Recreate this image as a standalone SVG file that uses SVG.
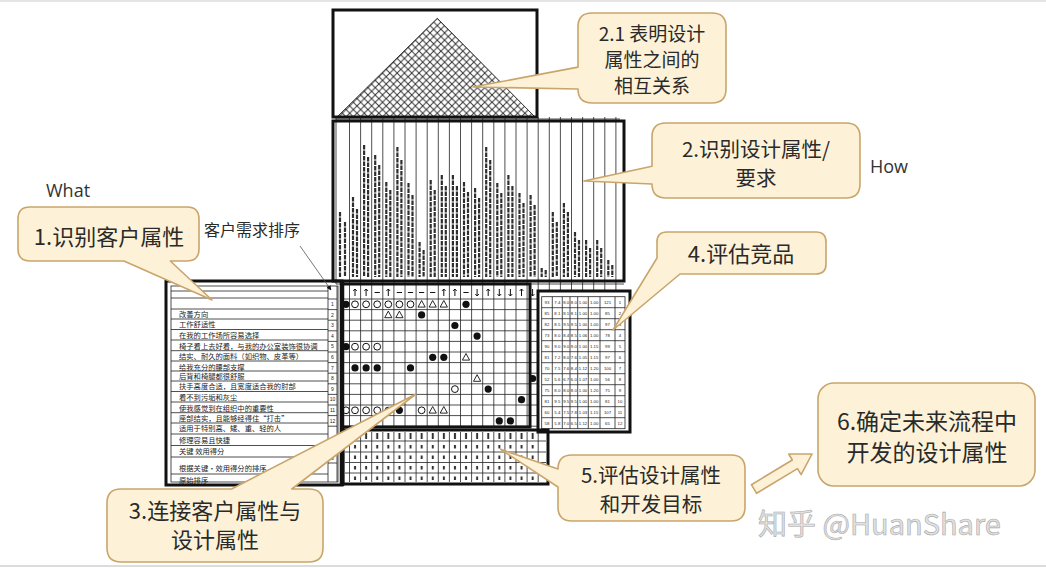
<svg xmlns="http://www.w3.org/2000/svg" width="1046" height="568" viewBox="0 0 1046 568">
<defs>
<style>
.cb{fill:#fdf2d8;stroke:#c9a56b;stroke-width:1.6;stroke-linejoin:round}
.ct{font-family:"Noto Sans CJK SC","Noto Sans",sans-serif;fill:#2a2a2a;text-anchor:middle}
.lbl{font-family:"Open Sans","Noto Sans",sans-serif;fill:#333;font-size:18px}
.thick{fill:none;stroke:#111;stroke-width:3}
.grid{fill:none;stroke:#222;stroke-width:0.8}
.lt{font-family:"Noto Sans CJK SC","Noto Sans",sans-serif;fill:#222;font-size:7.3px}
.num{font-family:"Liberation Sans",Arial,sans-serif;fill:#222;font-size:4.3px;text-anchor:middle}
.rn{font-family:"Liberation Sans",Arial,sans-serif;fill:#222;font-size:5px;text-anchor:middle}
.dir{fill:none;stroke:#111;stroke-width:1}
</style>
<pattern id="hatch" width="7.3" height="7.3" patternUnits="userSpaceOnUse" patternTransform="translate(437.3,18.3)">
<path d="M0,0 L7.3,7.3 M7.3,0 L0,7.3" stroke="#333" stroke-width="1"/>
</pattern>
<pattern id="evalMarks" x="349.5" y="430" width="11.1" height="53" patternUnits="userSpaceOnUse">
<path d="M5.55,3 V9 M5.55,15 V18.5 M5.55,25.5 V29 M5.55,36 V39.5 M5.55,46.5 V50" stroke="#333" stroke-width="2"/>
</pattern>
<circle id="so" r="3.4" fill="#fff" stroke="#111" stroke-width="1"/>
<circle id="sf" r="3.6" fill="#111"/>
<path id="st" d="M0,-3.8 L3.6,2.8 L-3.6,2.8 Z" fill="#fff" stroke="#111" stroke-width="0.9"/>
<path id="up" class="dir" d="M0,-3.5 V3.5 M-1.8,-1.6 L0,-3.5 L1.8,-1.6"/>
<path id="dn" class="dir" d="M0,-3.5 V3.5 M-1.8,1.6 L0,3.5 L1.8,1.6"/>
<path id="nt" class="dir" d="M-2.6,0 H2.6"/>
<marker id="ah" viewBox="0 0 10 10" refX="9" refY="5" markerWidth="6" markerHeight="6" orient="auto">
<path d="M0,0 L10,5 L0,10 Z" fill="#111"/>
</marker>
</defs>
<rect x="0" y="0" width="1046" height="568" fill="#fff"/>
<rect x="0" y="0" width="1046" height="2" fill="#e4e4e4"/>
<line x1="0" y1="566" x2="1046" y2="566" stroke="#dcdcdc" stroke-width="2"/>

<g id="roof">
<polygon points="437.3,18.3 337,117 535,117" fill="url(#hatch)" stroke="#333" stroke-width="1"/>
<rect x="333" y="10" width="204" height="107" class="thick"/>
</g>

<g id="design-attributes">
<path class="grid" d="M336,117 V284 M349.5,117 V284 M360.6,117 V284 M371.7,117 V284 M382.8,117 V284 M393.9,117 V284 M405,117 V284 M416.1,117 V284 M427.2,117 V284 M438.3,117 V284 M449.4,117 V284 M460.5,117 V284 M471.6,117 V284 M482.7,117 V284 M493.8,117 V284 M504.9,117 V284 M516,117 V284 M527.1,117 V284 M538.2,117 V284 M549.3,117 V291 M560.4,117 V291 M571.5,117 V291 M582.6,117 V291 M593.7,117 V291 M604.8,117 V291 M615.9,117 V291 M336,119 H620 M336,284 H624"/>
<path fill="none" stroke="#2e2e2e" stroke-width="2.2" stroke-dasharray="4.5 1" d="M340,212 V277 M345,222 V277 M353,197 V277 M357,209 V277 M364.1,145 V277 M368.1,157 V277 M375.2,155 V277 M379.2,165 V277 M386.3,182 V277 M390.3,190 V277 M397.4,147 V277 M401.4,160 V277 M408.5,183 V277 M412.5,195 V277 M419.6,242 V277 M423.6,250 V277 M430.7,180 V277 M434.7,190 V277 M441.8,175 V277 M445.8,186 V277 M452.9,175 V277 M456.9,186 V277 M464,182 V277 M468,192 V277 M475.1,188 V277 M479.1,198 V277 M486.2,147 V277 M490.2,160 V277 M497.3,183 V277 M501.3,193 V277 M508.4,175 V277 M512.4,186 V277 M519.5,193 V277 M523.5,203 V277 M530.6,195 V277 M534.6,205 V277 M541.7,268 V277 M545.7,270 V277 M552.8,212 V277 M556.8,222 V277 M563.9,203 V277 M567.9,212 V277 M575,232 V277 M579,240 V277 M586.1,240 V277 M590.1,248 V277 M597.2,240 V277 M601.2,248 V277 M608.3,260 V277 M612.3,265 V277"/>
<rect x="333" y="121" width="291" height="160" class="thick"/>
</g>

<g id="customer-attributes">
<rect x="171" y="286" width="167" height="196" fill="none" stroke="#222" stroke-width="0.8"/>
<path class="grid" d="M171,291 H328 M171,298 H328 M171,309 H328 M171,319 H328 M171,329.5 H328 M171,340 H328 M171,350.7 H328 M171,361 H328 M171,371 H328 M171,381 H328 M171,391.5 H328 M171,402 H328 M171,412.7 H328 M171,423 H328 M171,434 H328 M171,445.5 H328 M171,457 H328 M171,474 H328 M328,286 V482 M337,286 V482 M328,299 H337 M328,309.6 H337 M328,320.2 H337 M328,330.8 H337 M328,341.4 H337 M328,352 H337 M328,362.6 H337 M328,373.2 H337 M328,383.8 H337 M328,394.4 H337 M328,405 H337 M328,415.6 H337 M328,426.2 H337 M328,452 H337 M328,463 H337"/>
<text class="lt" x="179" y="317">改善方向</text>
<text class="lt" x="179" y="327">工作舒适性</text>
<text class="lt" x="179" y="338">在我的工作场所容易选择</text>
<text class="lt" x="179" y="348.5">椅子看上去好看，与我的办公室装饰很协调</text>
<text class="lt" x="179" y="359">结实、耐久的面料（如织物、皮革等）</text>
<text class="lt" x="179" y="369.5">给我充分的腰部支撑</text>
<text class="lt" x="179" y="379">后背和椅腿都很舒服</text>
<text class="lt" x="179" y="389">扶手高度合适，且宽度适合我的肘部</text>
<text class="lt" x="179" y="400">看不到污垢和灰尘</text>
<text class="lt" x="179" y="410.5">使我感觉到在组织中的重要性</text>
<text class="lt" x="179" y="421">座部结实，且能够经得住“打击”</text>
<text class="lt" x="179" y="431">适用于特别高、矮、重、轻的人</text>
<text class="lt" x="179" y="443">修理容易且快捷</text>
<text class="lt" x="179" y="454">关键 效用得分</text>
<text class="lt" x="179" y="471">根据关键·效用得分的排序</text>
<text class="lt" x="179" y="483">原始排序</text>
<text class="rn" x="332.5" y="306">1</text>
<text class="rn" x="332.5" y="316.6">2</text>
<text class="rn" x="332.5" y="327.2">3</text>
<text class="rn" x="332.5" y="337.8">4</text>
<text class="rn" x="332.5" y="348.4">5</text>
<text class="rn" x="332.5" y="359">6</text>
<text class="rn" x="332.5" y="369.6">7</text>
<text class="rn" x="332.5" y="380.2">8</text>
<text class="rn" x="332.5" y="390.8">9</text>
<text class="rn" x="332.5" y="401.4">10</text>
<text class="rn" x="332.5" y="412">11</text>
<text class="rn" x="332.5" y="422.6">12</text>
<text class="rn" x="332.5" y="459.5">3</text>
<rect x="166" y="281" width="176" height="204" class="thick"/>
</g>

<g id="relationship-matrix">
<path class="grid" d="M349.5,284 V427 M360.6,284 V427 M371.7,284 V427 M382.8,284 V427 M393.9,284 V427 M405,284 V427 M416.1,284 V427 M427.2,284 V427 M438.3,284 V427 M449.4,284 V427 M460.5,284 V427 M471.6,284 V427 M482.7,284 V427 M493.8,284 V427 M504.9,284 V427 M516,284 V427 M527.1,284 V427 M538.2,284 V427 M342,299 H538 M342,309.6 H538 M342,320.2 H538 M342,330.8 H538 M342,341.4 H538 M342,352 H538 M342,362.6 H538 M342,373.2 H538 M342,383.8 H538 M342,394.4 H538 M342,405 H538 M342,415.6 H538 M342,426.2 H538"/>
<use href="#up" x="355" y="292.5"/><use href="#up" x="366.1" y="292.5"/><use href="#nt" x="377.2" y="292.5"/><use href="#up" x="388.3" y="292.5"/><use href="#nt" x="399.4" y="292.5"/><use href="#nt" x="410.5" y="292.5"/><use href="#nt" x="421.6" y="292.5"/><use href="#nt" x="432.7" y="292.5"/><use href="#up" x="443.8" y="292.5"/><use href="#up" x="454.9" y="292.5"/><use href="#nt" x="466" y="292.5"/><use href="#dn" x="477.1" y="292.5"/><use href="#up" x="488.2" y="292.5"/><use href="#dn" x="499.3" y="292.5"/><use href="#dn" x="510.4" y="292.5"/><use href="#up" x="521.5" y="292.5"/><use href="#dn" x="532.6" y="292.5"/>
<use href="#sf" x="346" y="304.3"/><use href="#sf" x="346" y="346.7"/><use href="#so" x="346" y="410.3"/>
<use href="#so" x="355" y="304.3"/><use href="#so" x="366.1" y="304.3"/><use href="#so" x="377.2" y="304.3"/><use href="#so" x="388.3" y="304.3"/><use href="#so" x="399.4" y="304.3"/><use href="#so" x="410.5" y="304.3"/><use href="#st" x="421.6" y="304.3"/><use href="#st" x="432.7" y="304.3"/><use href="#st" x="443.8" y="304.3"/><use href="#sf" x="466" y="304.3"/>
<use href="#st" x="388.3" y="314.9"/><use href="#st" x="399.4" y="314.9"/><use href="#sf" x="421.6" y="314.9"/>
<use href="#sf" x="454.9" y="325.5"/>
<use href="#sf" x="477.1" y="336.1"/>
<use href="#so" x="355" y="346.7"/><use href="#so" x="366.1" y="346.7"/><use href="#so" x="377.2" y="346.7"/>
<use href="#sf" x="432.7" y="357.3"/><use href="#sf" x="443.8" y="357.3"/><use href="#st" x="466" y="357.3"/>
<use href="#sf" x="355" y="367.9"/><use href="#sf" x="366.1" y="367.9"/><use href="#sf" x="377.2" y="367.9"/><use href="#sf" x="410.5" y="367.9"/>
<use href="#st" x="477.1" y="378.5"/><use href="#sf" x="532.6" y="378.5"/>
<use href="#so" x="454.9" y="389.1"/><use href="#sf" x="488.2" y="389.1"/>
<use href="#sf" x="521.5" y="399.7"/>
<use href="#so" x="355" y="410.3"/><use href="#so" x="366.1" y="410.3"/><use href="#so" x="377.2" y="410.3"/><use href="#sf" x="388.3" y="410.3"/><use href="#sf" x="399.4" y="410.3"/><use href="#so" x="421.6" y="410.3"/><use href="#st" x="432.7" y="410.3"/><use href="#st" x="443.8" y="410.3"/>
<use href="#sf" x="499.3" y="420.9"/><use href="#sf" x="510.4" y="420.9"/>
<rect x="342" y="284" width="188" height="143" class="thick"/>
<line x1="342" y1="281" x2="342" y2="486" stroke="#111" stroke-width="4.5"/>
</g>

<g id="competitor-evaluation">
<rect x="541.7" y="296.7" width="83.3" height="132" fill="none" stroke="#222" stroke-width="0.8"/>
<path class="grid" d="M552.3,296.7 V428.7 M562.3,296.7 V428.7 M570,296.7 V428.7 M577.7,296.7 V428.7 M588.3,296.7 V428.7 M600,296.7 V428.7 M615,296.7 V428.7 M541.7,307.7 H625 M541.7,318.7 H625 M541.7,329.7 H625 M541.7,340.7 H625 M541.7,351.7 H625 M541.7,362.7 H625 M541.7,373.7 H625 M541.7,384.7 H625 M541.7,395.7 H625 M541.7,406.7 H625 M541.7,417.7 H625"/>
<text class="num" y="303.7"><tspan x="546.9">93</tspan><tspan x="557.3">7.4</tspan><tspan x="566.2">8.0</tspan><tspan x="573.8">8.0</tspan><tspan x="583">1.00</tspan><tspan x="594.2">1.00</tspan><tspan x="607.5">121</tspan><tspan x="620">1</tspan></text>
<text class="num" y="314.7"><tspan x="546.9">85</tspan><tspan x="557.3">8.1</tspan><tspan x="566.2">8.1</tspan><tspan x="573.8">8.1</tspan><tspan x="583">1.00</tspan><tspan x="594.2">1.00</tspan><tspan x="607.5">85</tspan><tspan x="620">2</tspan></text>
<text class="num" y="325.7"><tspan x="546.9">82</tspan><tspan x="557.3">8.5</tspan><tspan x="566.2">9.5</tspan><tspan x="573.8">9.5</tspan><tspan x="583">1.00</tspan><tspan x="594.2">1.00</tspan><tspan x="607.5">97</tspan><tspan x="620">3</tspan></text>
<text class="num" y="336.7"><tspan x="546.9">73</tspan><tspan x="557.3">8.0</tspan><tspan x="566.2">8.4</tspan><tspan x="573.8">8.5</tspan><tspan x="583">1.06</tspan><tspan x="594.2">1.00</tspan><tspan x="607.5">78</tspan><tspan x="620">4</tspan></text>
<text class="num" y="347.7"><tspan x="546.9">90</tspan><tspan x="557.3">9.0</tspan><tspan x="566.2">9.0</tspan><tspan x="573.8">9.0</tspan><tspan x="583">1.00</tspan><tspan x="594.2">1.15</tspan><tspan x="607.5">99</tspan><tspan x="620">5</tspan></text>
<text class="num" y="358.7"><tspan x="546.9">81</tspan><tspan x="557.3">7.2</tspan><tspan x="566.2">8.0</tspan><tspan x="573.8">7.6</tspan><tspan x="583">1.05</tspan><tspan x="594.2">1.15</tspan><tspan x="607.5">97</tspan><tspan x="620">6</tspan></text>
<text class="num" y="369.7"><tspan x="546.9">70</tspan><tspan x="557.3">7.5</tspan><tspan x="566.2">7.6</tspan><tspan x="573.8">8.4</tspan><tspan x="583">1.12</tspan><tspan x="594.2">1.20</tspan><tspan x="607.5">100</tspan><tspan x="620">7</tspan></text>
<text class="num" y="380.7"><tspan x="546.9">52</tspan><tspan x="557.3">5.6</tspan><tspan x="566.2">6.7</tspan><tspan x="573.8">6.0</tspan><tspan x="583">1.07</tspan><tspan x="594.2">1.00</tspan><tspan x="607.5">56</tspan><tspan x="620">8</tspan></text>
<text class="num" y="391.7"><tspan x="546.9">75</tspan><tspan x="557.3">8.0</tspan><tspan x="566.2">8.0</tspan><tspan x="573.8">8.0</tspan><tspan x="583">1.00</tspan><tspan x="594.2">1.20</tspan><tspan x="607.5">75</tspan><tspan x="620">9</tspan></text>
<text class="num" y="402.7"><tspan x="546.9">81</tspan><tspan x="557.3">9.5</tspan><tspan x="566.2">9.5</tspan><tspan x="573.8">9.5</tspan><tspan x="583">1.00</tspan><tspan x="594.2">1.00</tspan><tspan x="607.5">81</tspan><tspan x="620">10</tspan></text>
<text class="num" y="413.7"><tspan x="546.9">60</tspan><tspan x="557.3">5.4</tspan><tspan x="566.2">7.5</tspan><tspan x="573.8">7.8</tspan><tspan x="583">1.03</tspan><tspan x="594.2">1.15</tspan><tspan x="607.5">107</tspan><tspan x="620">11</tspan></text>
<text class="num" y="424.7"><tspan x="546.9">58</tspan><tspan x="557.3">5.8</tspan><tspan x="566.2">7.0</tspan><tspan x="573.8">6.5</tspan><tspan x="583">1.12</tspan><tspan x="594.2">1.00</tspan><tspan x="607.5">65</tspan><tspan x="620">12</tspan></text>
<rect x="538" y="291" width="92" height="141" class="thick"/>
</g>

<g id="technical-evaluation">
<rect x="349.5" y="430" width="188.7" height="53" fill="url(#evalMarks)"/>
<path class="grid" d="M349.5,432 V482 M360.6,432 V482 M371.7,432 V482 M382.8,432 V482 M393.9,432 V482 M405,432 V482 M416.1,432 V482 M427.2,432 V482 M438.3,432 V482 M449.4,432 V482 M460.5,432 V482 M471.6,432 V482 M482.7,432 V482 M493.8,432 V482 M504.9,432 V482 M516,432 V482 M527.1,432 V482 M538.2,432 V482 M345,441 H546 M345,452 H546 M345,462.5 H546 M345,473 H546"/>
<rect x="343" y="430" width="205" height="54" class="thick"/>
</g>

<g id="labels">
<text class="lbl" x="46" y="197">What</text>
<text class="lbl" x="870" y="173">How</text>
<text class="ct" x="252" y="236" font-size="16">客户需求排序</text>
<line x1="300" y1="246" x2="331" y2="290" stroke="#555" stroke-width="0.8" marker-end="url(#ah)"/>
</g>

<g id="callout-2-1">
<path class="cb" d="M592,13 H712 Q726,13 726,27 V89 Q726,103 712,103 H592 Q578,103 578,89 L473,87 L578,67.1 V27 Q578,13 592,13 Z"/>
<text class="ct" font-size="19"><tspan x="652" y="41">2.1 表明设计</tspan><tspan x="652" y="67">属性之间的</tspan><tspan x="652" y="93">相互关系</tspan></text>
</g>

<g id="callout-2">
<path class="cb" d="M666,123 H846 Q860,123 860,137 V184 Q860,198 846,198 H666 Q652,198 652,184 L584,181 L652,166.3 V137 Q652,123 666,123 Z"/>
<text class="ct" font-size="20.5"><tspan x="756" y="157">2.识别设计属性/</tspan><tspan x="756" y="186">要求</tspan></text>
</g>

<g id="callout-1">
<path class="cb" d="M30,207 H187 Q199,207 199,219 V249 Q199,261 187,261 H170.3 L212,300 L123.9,261 H30 Q18,261 18,249 V219 Q18,207 30,207 Z"/>
<text class="ct" x="109" y="245" font-size="22">1.识别客户属性</text>
</g>

<g id="callout-4">
<path class="cb" d="M667,232 H816 Q826,232 826,242 V264 Q826,274 816,274 H680 L613,330 L657,258 V242 Q657,232 667,232 Z"/>
<text class="ct" x="741" y="262" font-size="22">4.评估竞品</text>
</g>

<g id="callout-3">
<path class="cb" d="M121,489 H231.6 L416,394 L291.8,489 H309 Q323,489 323,503 V548 Q323,562 309,562 H121 Q107,562 107,548 V503 Q107,489 121,489 Z"/>
<text class="ct" font-size="22"><tspan x="215" y="519">3.连接客户属性与</tspan><tspan x="215" y="548">设计属性</tspan></text>
</g>

<g id="callout-5">
<path class="cb" d="M572,455 H731 Q745,455 745,469 V507 Q745,521 731,521 H572 Q558,521 558,507 V487 L500.7,449.3 L558,469 Q558,455 572,455 Z"/>
<text class="ct" font-size="20.5"><tspan x="651" y="483">5.评估设计属性</tspan><tspan x="651" y="512">和开发目标</tspan></text>
</g>

<g id="connectors">
<polygon class="cb" points="756.6,493.3 797.5,468.6 801.1,474.6 812,454 788.7,454 792.3,460 751.4,484.7"/>
</g>

<g id="callout-6">
<rect class="cb" x="818" y="383" width="217" height="103" rx="16"/>
<text class="ct" font-size="23"><tspan x="927" y="430">6.确定未来流程中</tspan><tspan x="927" y="461">开发的设计属性</tspan></text>
</g>

<text x="758" y="535" font-family="Noto Sans CJK SC, Noto Sans, sans-serif" font-size="29" fill="#e2e2e2" stroke="#a9a9a9" stroke-width="0.6">知乎 @HuanShare</text>
</svg>
